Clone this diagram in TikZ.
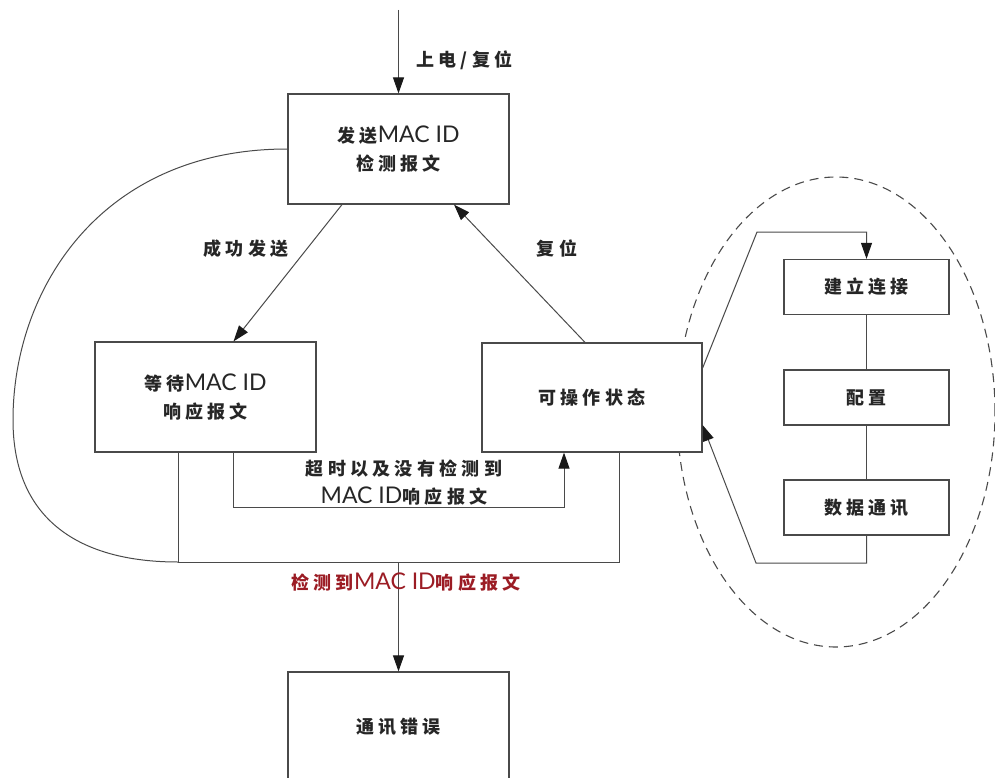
\documentclass[tikz,border=0pt]{standalone}
\usepackage{fontspec}
\setmainfont{Lato}
\newfontfamily\cjkf[LetterSpace=24]{Noto Sans CJK SC}
\newfontfamily\latf{Lato}
\usetikzlibrary{arrows.meta,shapes.geometric}
\definecolor{linec}{HTML}{4A4A4A}
\definecolor{redt}{HTML}{9B1C24}
\newcommand\zh[1]{{\cjkf\bfseries\fontsize{18}{28}\selectfont #1}}
\newcommand\en[1]{{\latf\fontsize{23}{28}\selectfont #1}}
\begin{document}
\begin{tikzpicture}[x=1pt,y=-1pt,
  every node/.style={font=\fontsize{18}{28}\selectfont},
  box/.style={draw=linec, fill=white, line width=1.2pt, minimum width=221pt, minimum height=110pt, inner sep=0pt, align=center, text=black!85},
  sbox/.style={draw=linec, fill=white, line width=1.2pt, minimum width=165pt, minimum height=55pt, inner sep=0pt, text=black!85},
  conn/.style={draw=linec, line width=1pt},
  arr/.style={conn, -{Triangle[length=16pt,width=11pt,color=black!90]}},
  lbl/.style={text=black!85, align=center, inner sep=0pt}
]
\useasboundingbox (0,0) rectangle (995,778);
% dashed group ellipse
\node[draw=linec, ellipse, dash pattern=on 9pt off 6pt, line width=1.1pt, minimum width=318pt, minimum height=470pt, inner sep=0pt] (grp) at (836,412) {};
% boxes
\node[box] (b1) at (398.5,149) {\zh{发送}\en{MAC ID}\\\zh{检测报文}};
\node[box] (b2) at (205.5,397) {\zh{等待}\en{MAC ID}\\\zh{响应报文}};
\node[box, minimum width=220pt, minimum height=109pt] (b3) at (592,397.5) {\zh{可操作状态}};
\node[sbox] (b4) at (866.5,287) {\zh{建立连接}};
\node[sbox] (b5) at (866.5,397.5) {\zh{配置}};
\node[sbox] (b6) at (866.5,507.5) {\zh{数据通讯}};
\node[box] (b7) at (398.5,727) {\zh{通讯错误}};
% entry
\coordinate (top) at (398.5,10);
\draw[arr] (top) -- (b1.north);
\node[lbl, anchor=west] (l1) at (416,60) {\zh{上电/复位}};
% success
\draw[arr] ([xshift=-56.5pt]b1.south) -- ([xshift=28pt]b2.north);
\node[lbl] (l2) at (246,249) {\zh{成功发送}};
% reset
\draw[arr] ([xshift=-7pt]b3.north) -- ([xshift=55.5pt]b1.south);
\node[lbl] (l3) at (557,248) {\zh{复位}};
% big loop
\coordinate (j1) at (178,562);
\coordinate (j2) at (619,562);
\coordinate (j3) at (398.5,562);
\draw[conn] (b1.west) .. controls (100,149) and (13,290) .. (13,420) .. controls (13,520) and (80,562) .. (j1);
\draw[conn] ([xshift=-27.5pt]b2.south) -- (j1) -- (j2) -- ([xshift=27pt]b3.south);
\draw[arr] (j3) -- (b7.north);
\node[lbl, text=redt] (l4) at (406,582) {\zh{检测到}\en{MAC ID}\zh{响应报文}};
% timeout
\coordinate (t1) at (233.5,507);
\coordinate (t2) at (564,507);
\draw[arr] ([xshift=28pt]b2.south) -- (t1) -- (t2) -- ([xshift=-28pt]b3.south);
\node[lbl] (l5) at (404,483) {\zh{超时以及没有检测到}\\\en{MAC ID}\zh{响应报文}};
% operational sub-states
\coordinate (r1) at (757,232);
\coordinate (r2) at (866.5,232);
\draw[arr] ([yshift=29.5pt]b3.east) -- (r1) -- (r2) -- (b4.north);
\draw[conn] (b4) -- (b5);
\draw[conn] (b5) -- (b6);
\coordinate (r3) at (866.5,563);
\coordinate (r4) at (756,563);
\draw[arr] (b6.south) -- (r3) -- (r4) -- ([yshift=-27.5pt]b3.east);
\end{tikzpicture}
\end{document}
